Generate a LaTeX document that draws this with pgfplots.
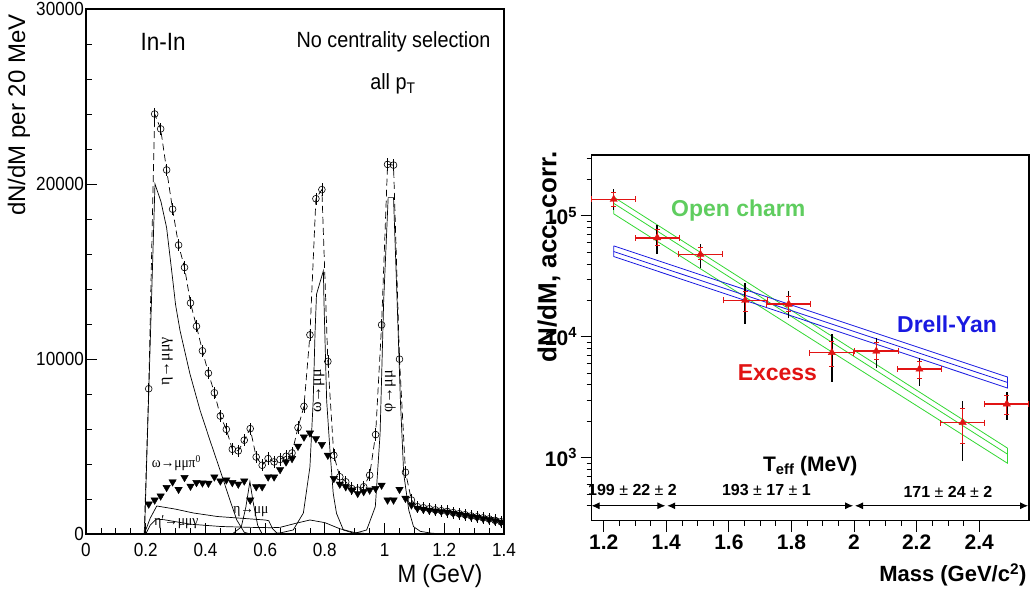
\documentclass[border=0pt]{standalone}
\usepackage{fontspec}
\setmainfont{Liberation Sans}
\newfontfamily\lsans{Liberation Sans}[FakeStretch=0.9]
\newfontfamily\lserif{Liberation Serif}[FakeStretch=0.9]
\newfontfamily\rserif{Liberation Serif}
\usepackage{pgfplots}
\pgfplotsset{compat=1.18}
\usetikzlibrary{arrows.meta}

\definecolor{ocgreen}{RGB}{50,215,50}
\definecolor{ocgreentext}{RGB}{95,205,95}
\definecolor{dyblue}{RGB}{25,25,225}
\definecolor{exred}{RGB}{225,20,20}
\newcommand\fs[1]{\fontsize{#1}{#1}\selectfont}

\begin{document}
\begin{tikzpicture}
\path[use as bounding box] (0,0) rectangle (1032pt,592pt);

% ---------------- left panel: In-In mass spectrum ----------------
\begin{axis}[
    at={(86pt,58pt)}, anchor=south west,
    width=418pt, height=525pt, scale only axis,
    xmin=0, xmax=1.4, ymin=0, ymax=30000,
    xtick={0,0.2,0.4,0.6,0.8,1,1.2,1.4},
    ytick={0,10000,20000,30000},
    minor x tick num=3, minor y tick num=4,
    tick align=inside, tick pos=left,
    major tick length=11pt, minor tick length=6pt,
    scaled y ticks=false,
    /pgf/number format/1000 sep={},
    /pgf/number format/assume math mode=true,
    tick label style={font=\lsans\fs{19}, inner sep=2pt},
    xticklabel style={yshift=-7pt},
    axis line style={line width=1.1pt},
    every tick/.style={black, line width=0.8pt},
    clip=false,
]
    % eta Dalitz
    \addplot[black, line width=0.7pt] coordinates {
        (0.196,0) (0.231,20000) (0.251,19000) (0.27,17500) (0.29,14600)
        (0.30,13100) (0.315,11620) (0.348,9160) (0.382,7070) (0.415,5360)
        (0.449,3650) (0.482,1940) (0.505,800) (0.53,100) (0.55,0)
    };
    % omega Dalitz
    \addplot[black, line width=0.7pt] coordinates {
        (0.195,0) (0.215,900) (0.237,1600) (0.30,1420) (0.36,1200)
        (0.44,1000) (0.52,900) (0.60,800) (0.612,760) (0.625,300) (0.64,50) (0.65,0)
    };
    % eta' Dalitz
    \addplot[black, line width=0.7pt] coordinates {
        (0.20,0) (0.215,500) (0.235,850) (0.26,820) (0.35,560) (0.45,430)
        (0.55,380) (0.62,360) (0.65,380) (0.70,600) (0.75,800) (0.80,650)
        (0.85,300) (0.90,80) (0.95,10) (1.0,0)
    };
    % eta -> mumu
    \addplot[black, line width=0.7pt] coordinates {
        (0.49,0) (0.52,400) (0.535,1500) (0.549,3000) (0.56,1800) (0.575,500) (0.59,0)
    };
    % omega -> mumu
    \addplot[black, line width=0.7pt] coordinates {
        (0.60,0) (0.65,60) (0.694,230) (0.728,1200) (0.75,3830) (0.761,7640)
        (0.767,11450) (0.772,13700) (0.795,15040) (0.797,13300) (0.806,7640)
        (0.817,4800) (0.828,2320) (0.839,1180) (0.862,230) (0.90,30) (0.95,0)
    };
    % phi -> mumu
    \addplot[black, line width=0.7pt] coordinates {
        (0.85,0) (0.90,40) (0.94,230) (0.969,1560) (0.985,5740) (0.997,13330)
        (1.012,19220) (1.030,19220) (1.042,13330) (1.053,7640) (1.064,3460)
        (1.081,1370) (1.097,420) (1.12,150) (1.16,40) (1.25,0) (1.4,0)
    };
    % baseline
    \addplot[black, line width=2.4pt] coordinates {(0,0) (1.4,0)};

    % total data: dashed line
    \addplot[black, line width=0.7pt, dash pattern=on 7pt off 4pt] coordinates {
        (0.195,0) (0.21,8300) (0.23,24000) (0.25,23150) (0.27,20800) (0.29,18560)
        (0.31,16510) (0.33,15230) (0.35,13200) (0.37,11870) (0.39,10470)
        (0.41,9190) (0.43,8070) (0.45,6740) (0.47,5980) (0.49,4840) (0.51,4750)
        (0.53,5360) (0.55,6020) (0.57,4400) (0.59,3930) (0.61,4310) (0.63,4120)
        (0.65,4260) (0.67,4440) (0.69,4630) (0.71,6080) (0.73,7290) (0.75,11380)
        (0.77,19160) (0.79,19680) (0.81,9860) (0.83,4500) (0.85,3270) (0.87,2980)
        (0.89,2600) (0.91,2510) (0.93,2700) (0.95,3360) (0.97,5680) (0.99,11950)
        (1.01,21120) (1.03,21080) (1.05,9990) (1.07,3530) (1.09,1940) (1.11,1560)
        (1.13,1500) (1.15,1440) (1.17,1380) (1.19,1330) (1.21,1290) (1.23,1220)
        (1.25,1160) (1.27,1100) (1.29,1030) (1.31,980) (1.33,920) (1.35,860)
        (1.37,780) (1.39,700)
    };
    % total data: circles
    \addplot[black, only marks, mark=o, mark size=3.4pt, line width=0.6pt,
        error bars/.cd, y dir=both, y fixed=350, error mark=none,
        error bar style={black, line width=0.6pt}] coordinates {
        (0.21,8300) (0.23,24000) (0.25,23150) (0.27,20800) (0.29,18560)
        (0.31,16510) (0.33,15230) (0.35,13200) (0.37,11870) (0.39,10470)
        (0.41,9190) (0.43,8070) (0.45,6740) (0.47,5980) (0.49,4840) (0.51,4750)
        (0.53,5360) (0.55,6020) (0.57,4400) (0.59,3930) (0.61,4310) (0.63,4120)
        (0.65,4260) (0.67,4440) (0.69,4630) (0.71,6080) (0.73,7290) (0.75,11380)
        (0.77,19160) (0.79,19680) (0.81,9860) (0.83,4500) (0.85,3270) (0.87,2980)
        (0.89,2600) (0.91,2510) (0.93,2700) (0.95,3360) (0.97,5680) (0.99,11950)
        (1.01,21120) (1.03,21080) (1.05,9990) (1.07,3530) (1.09,1940) (1.11,1560)
        (1.13,1500) (1.15,1440) (1.17,1380) (1.19,1330) (1.21,1290) (1.23,1220)
        (1.25,1160) (1.27,1100) (1.29,1030) (1.31,980) (1.33,920) (1.35,860)
        (1.37,780) (1.39,700)
    };
    % excess: filled triangles
    \addplot[black, only marks, mark=triangle*, mark size=4.3pt,
        mark options={rotate=180}] coordinates {
        (0.21,1710) (0.23,1940) (0.25,2170) (0.27,2660) (0.29,2980) (0.31,2550)
        (0.33,3230) (0.35,2730) (0.37,2940) (0.39,2920) (0.41,2900) (0.43,3260)
        (0.45,3030) (0.47,3090) (0.49,2940) (0.51,2850) (0.53,3030) (0.55,1940)
        (0.57,2700) (0.59,2700) (0.61,3260) (0.63,3260) (0.65,3680) (0.67,4120)
        (0.69,4310) (0.71,5010) (0.73,5540) (0.75,5770) (0.77,5450) (0.79,5110)
        (0.81,4500) (0.83,3170) (0.85,2850) (0.87,2700) (0.89,2510) (0.91,2320)
        (0.93,2420) (0.95,2510) (0.97,2600) (0.99,2790) (1.01,1940) (1.03,1940)
        (1.05,2550) (1.07,2040) (1.09,1660) (1.11,1470) (1.13,1410) (1.15,1360)
        (1.17,1320) (1.19,1290) (1.21,1250) (1.23,1190) (1.25,1130) (1.27,1070)
        (1.29,1000) (1.31,950) (1.33,890) (1.35,830) (1.37,760) (1.39,680)
    };

    \node[font=\lsans\fs{25}] at (axis cs:0.258,28110) {In-In};
    \node[font=\lsans\fs{22}] at (axis cs:1.03,28110) {No centrality selection};
    \node[font=\lsans\fs{22}] at (axis cs:1.028,25700) {all p\textsubscript{T}};

    \node[font=\rserif\fs{16}, rotate=90] at (axis cs:0.272,9860) {η→μμγ};
    \node[font=\rserif\fs{16}, rotate=90] at (axis cs:0.781,8170) {ω→μμ};
    \node[font=\rserif\fs{16}, rotate=90] at (axis cs:1.019,8140) {φ→μμ};
    \node[font=\lserif\fs{15}, anchor=west, inner sep=0pt] at (axis cs:0.22,4040) {ω→μμπ\textsuperscript{0}};
    \node[font=\lserif\fs{15}, anchor=west, inner sep=0pt] at (axis cs:0.493,1270) {η→μμ};
    \node[font=\lserif\fs{15}, anchor=west, inner sep=0pt] at (axis cs:0.228,700) {η′→μμγ};
\end{axis}

\node[font=\lsans\fs{25}] at (440pt,16pt) {M (GeV)};
\node[font=\fs{24}, rotate=90] at (19pt,477pt) {dN/dM per 20 MeV};

% ---------------- right panel: excess vs mass ----------------
\begin{axis}[
    at={(591.5pt,71.3pt)}, anchor=south west,
    width=437.5pt, height=365.7pt, scale only axis,
    ymode=log, log basis y=10,
    xmin=1.161, xmax=2.559, ymin=301, ymax=319000,
    xtick={1.2,1.4,1.6,1.8,2,2.2,2.4},
    minor x tick num=3,
    yticklabel={10\textsuperscript{\pgfmathprintnumber[fixed,precision=0]{\tick}}},
    tick align=outside, tick pos=left,
    major tick length=11pt, minor tick length=5pt,
    /pgf/number format/assume math mode=true,
    tick label style={font=\bfseries\fs{21}},
    axis line style={line width=1.1pt},
    every tick/.style={black, line width=0.8pt},
    clip=false,
]
    % open charm band
    \addplot[ocgreen, line width=0.8pt] coordinates {
        (1.232,143000) (2.49,1200) (2.49,900) (1.232,104000) (1.232,143000)
    };
    \addplot[ocgreen, line width=0.8pt] coordinates {(1.232,127000) (2.49,1070)};
    % Drell-Yan band
    \addplot[dyblue, line width=0.8pt] coordinates {
        (1.232,56500) (2.49,4650) (2.49,3770) (1.232,46100) (1.232,56500)
    };
    \addplot[dyblue, line width=0.8pt] coordinates {(1.232,50700) (2.49,4190)};

    % statistical errors
    \addplot[draw=none, mark=none,
        error bars/.cd, y dir=both, y explicit, error mark=none,
        error bar style={black, line width=1.5pt}] coordinates {
        (1.232,137000) += (0,30000) -= (0,25000)
        (1.371,66000) += (0,18000) -= (0,18000)
        (1.509,48000) += (0,11000) -= (0,11000)
        (1.652,20000) += (0,8000) -= (0,7300)
        (1.791,18600) += (0,5100) -= (0,4300)
        (1.929,7400) += (0,3100) -= (0,3200)
        (2.071,7600) += (0,2100) -= (0,2100)
        (2.209,5400) += (0,1300) -= (0,1500)
        (2.347,1950) += (0,1010) -= (0,1010)
        (2.488,2780) += (0,720) -= (0,730)
    };
    % bin widths
    \addplot[draw=none, mark=none,
        error bars/.cd, x dir=both, x explicit,
        error bar style={exred, line width=1.7pt},
        error mark options={rotate=90, exred, mark size=3pt, line width=1pt}] coordinates {
        (1.232,137000) +- (0.07,0)
        (1.371,66000) +- (0.07,0)
        (1.509,48000) +- (0.07,0)
        (1.652,20000) +- (0.07,0)
        (1.791,18600) +- (0.07,0)
        (1.929,7400) +- (0.07,0)
        (2.071,7600) +- (0.07,0)
        (2.209,5400) +- (0.07,0)
        (2.347,1950) +- (0.07,0)
        (2.488,2780) +- (0.07,0)
    };
    % systematic errors and points
    \addplot[exred, only marks, mark=triangle*, mark size=4.2pt,
        error bars/.cd, y dir=both, y explicit,
        error bar style={exred, line width=0.9pt},
        error mark options={rotate=90, exred, mark size=2.5pt, line width=0.9pt}] coordinates {
        (1.232,137000) += (0,20000) -= (0,18000)
        (1.371,66000) += (0,10600) -= (0,9500)
        (1.509,48000) += (0,6700) -= (0,4700)
        (1.652,20000) += (0,3700) -= (0,3800)
        (1.791,18600) += (0,2900) -= (0,2400)
        (1.929,7400) += (0,1700) -= (0,1700)
        (2.071,7600) += (0,1370) -= (0,1140)
        (2.209,5400) += (0,850) -= (0,840)
        (2.347,1950) += (0,610) -= (0,640)
        (2.488,2780) += (0,520) -= (0,500)
    };

    \node[font=\bfseries\fs{23}, text=ocgreentext] at (axis cs:1.63,110000) {Open charm};
    \node[font=\bfseries\fs{23}, text=dyblue] at (axis cs:2.297,12600) {Drell-Yan};
    \node[font=\bfseries\fs{23}, text=exred] at (axis cs:1.755,5040) {Excess};
    \node[font=\bfseries\fs{21}] at (axis cs:1.86,860) {T\textsubscript{eff} (MeV)};
    \node[font=\bfseries\fs{16}] at (axis cs:1.292,541) {199 {\mdseries ±} 22 {\mdseries ±} 2};
    \node[font=\bfseries\fs{16}] at (axis cs:1.72,541) {193 {\mdseries ±} 17 {\mdseries ±} 1};
    \node[font=\bfseries\fs{16}] at (axis cs:2.30,523) {171 {\mdseries ±} 24 {\mdseries ±} 2};
    \draw[{Latex[length=8pt,width=7pt]}-{Latex[length=8pt,width=7pt]}, line width=0.9pt]
        (axis cs:1.161,400) -- (axis cs:1.397,400);
    \draw[{Latex[length=8pt,width=7pt]}-{Latex[length=8pt,width=7pt]}, line width=0.9pt]
        (axis cs:1.403,400) -- (axis cs:1.997,400);
    \draw[{Latex[length=8pt,width=7pt]}-{Latex[length=8pt,width=7pt]}, line width=0.9pt]
        (axis cs:2.003,400) -- (axis cs:2.556,400);
\end{axis}

\node[font=\bfseries\fs{22}, anchor=east] at (1030pt,17pt) {Mass (GeV/c\textsuperscript{2})};
\node[font=\bfseries\fs{26}, rotate=90] at (549pt,335pt) {dN/dM, acc. corr.};
\end{tikzpicture}
\end{document}
